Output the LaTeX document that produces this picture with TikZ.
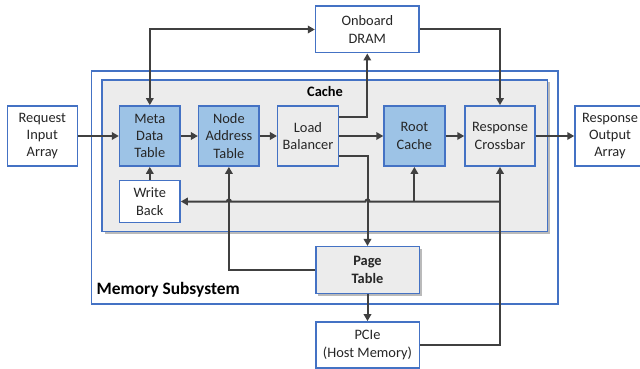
\documentclass[tikz,border=0pt]{standalone}
\usepackage{fontspec}
\setmainfont{Carlito}
\usetikzlibrary{arrows.meta,shadows,calc}
\definecolor{bblue}{RGB}{68,114,196}
\definecolor{fblue}{RGB}{157,195,230}
\definecolor{fgray}{RGB}{236,236,236}
\definecolor{lgray}{RGB}{64,64,64}
\tikzset{
  box/.style={draw=bblue,line width=1.5pt,inner sep=0pt,align=center,
    font=\fontsize{14.4}{17.3}\selectfont,text=black!85},
  wbox/.style={box,fill=white},
  bbox/.style={box,fill=fblue},
  gbox/.style={box,fill=fgray},
  shad/.style={drop shadow={shadow xshift=2.5pt,shadow yshift=-2.5pt,fill=black!45,opacity=.6}},
  conn/.style={draw=lgray,line width=2pt,-{Triangle[length=7pt,width=7.5pt]}},
  bconn/.style={draw=lgray,line width=2pt,{Triangle[length=7pt,width=7.5pt]}-{Triangle[length=7pt,width=7.5pt]}},
}
\begin{document}
\begin{tikzpicture}[x=1pt,y=-1pt]
\useasboundingbox (0,0) rectangle (640,369);
% containers
\draw[draw=bblue,line width=1.5pt,fill=white] (91.7,71) rectangle (558,304);
\draw[draw=bblue,line width=1.5pt,fill=fgray,shad] (102,80) rectangle (547.5,231.7);
\node[font=\fontsize{14.4}{17.3}\selectfont\bfseries] (cachelbl) at (325,92) {Cache};
\node[font=\fontsize{17.4}{20}\selectfont\bfseries,anchor=west,inner sep=0pt] (memlbl) at (96.5,290) {Memory Subsystem};
% nodes
\node[wbox,minimum width=70pt,minimum height=60.3pt] (req) at (42.3,136) {Request\\Input\\Array};
\node[bbox,minimum width=60.5pt,minimum height=60.3pt] (meta) at (149.8,136) {Meta\\Data\\Table};
\node[bbox,minimum width=60.5pt,minimum height=60.3pt] (nat) at (228.9,136) {Node\\Address\\Table};
\node[gbox,minimum width=60.6pt,minimum height=60.3pt] (lb) at (308,136) {Load\\Balancer};
\node[bbox,minimum width=60.7pt,minimum height=60.3pt] (root) at (414.4,136) {Root\\Cache};
\node[gbox,minimum width=70pt,minimum height=60.3pt] (resp) at (500,136) {Response\\Crossbar};
\node[wbox,minimum width=70pt,minimum height=60.3pt] (out) at (610,136) {Response\\Output\\Array};
\node[wbox,minimum width=60.5pt,minimum height=41.6pt] (wb) at (149.8,201.5) {Write\\Back};
\node[wbox,minimum width=103.5pt,minimum height=46.5pt] (dram) at (367.3,29.5) {Onboard\\DRAM};
\node[gbox,shad,minimum width=103.5pt,minimum height=46.6pt,font=\fontsize{14.4}{17.3}\selectfont\bfseries] (pt) at (367.5,270) {Page\\Table};
\node[wbox,minimum width=103.5pt,minimum height=46.3pt] (pcie) at (367.5,345) {PCIe\\(Host Memory)};
% main chain
\draw[conn] (req) -- (meta);
\draw[conn] (meta) -- (nat);
\draw[conn] (nat) -- (lb);
\draw[conn] (lb) -- (root);
\draw[conn] (root) -- (resp);
\draw[conn] (resp) -- (out);
\draw[conn] (wb) -- (meta);
% DRAM links
\draw[bconn] (meta.north) |- (dram.west);
\draw[conn] (dram.east) -| (resp.north);
\coordinate (lbup) at ([yshift=19.3pt]lb.east);
\coordinate (lbdn) at ([yshift=-19.7pt]lb.east);
\draw[conn] (lbup) -| (dram.south);
\draw[conn] (lbdn) -| (pt.north);
% page table links
\draw[conn] (pt.west) -| (nat.south);
\draw[conn] (pt) -- (pcie);
\draw[conn] (pcie.east) -| (resp.south);
% bus
\coordinate (busR) at (resp.south |- wb.east);
\coordinate (h1) at ([xshift=2pt]pt.north |- wb.east);
\coordinate (h2) at ([xshift=2pt]nat.south |- wb.east);
\draw[conn] (busR) -- (h1) arc[start angle=0,end angle=180,radius=2pt] -- (h2) arc[start angle=0,end angle=180,radius=2pt] -- (wb.east);
\coordinate (rootbus) at (root.south |- wb.east);
\draw[conn] (rootbus) -- (root.south);
\end{tikzpicture}
\end{document}
